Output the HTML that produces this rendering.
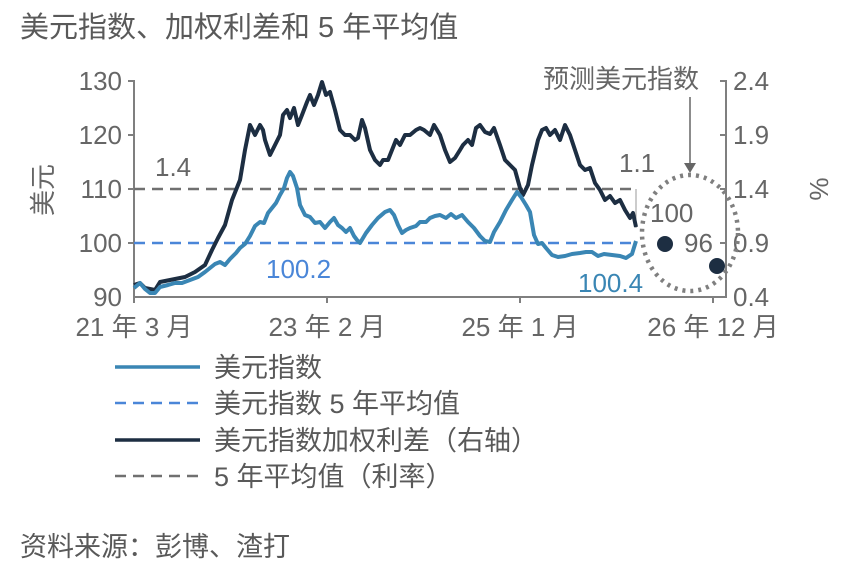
<!DOCTYPE html>
<html><head><meta charset="utf-8"><style>
body{margin:0;background:#fff;}
svg{display:block;font-family:"Liberation Sans","Noto Sans CJK SC",sans-serif;}
</style></head><body>
<svg width="856" height="586" viewBox="0 0 856 586" xmlns="http://www.w3.org/2000/svg">
<text x="20" y="37" font-size="29" fill="#595959">美元指数、加权利差和 5 年平均值</text>
<!-- axes -->
<g stroke="#7f7f7f" stroke-width="2" fill="none">
<path d="M128 81H134V297H726V81H720"/>
<path d="M128 135H134M128 189H134M128 243H134"/>
<path d="M720 135H726M720 189H726M720 243H726M720 297H726"/>
<path d="M134 297V303M327 297V303M520 297V303M713 297V303"/>
</g>
<g font-size="26" fill="#666">
<text x="122" y="90" text-anchor="end">130</text>
<text x="122" y="144" text-anchor="end">120</text>
<text x="122" y="198" text-anchor="end">110</text>
<text x="122" y="252" text-anchor="end">100</text>
<text x="122" y="306" text-anchor="end">90</text>
<text x="733" y="90">2.4</text>
<text x="733" y="144">1.9</text>
<text x="733" y="198">1.4</text>
<text x="733" y="252">0.9</text>
<text x="733" y="306">0.4</text>
<text x="134" y="336" text-anchor="middle">21 年 3 月</text>
<text x="327" y="336" text-anchor="middle">23 年 2 月</text>
<text x="520" y="336" text-anchor="middle">25 年 1 月</text>
<text x="713" y="336" text-anchor="middle">26 年 12 月</text>
<text transform="translate(52,190) rotate(-90)" text-anchor="middle">美元</text>
<text transform="translate(810,189) rotate(90)" text-anchor="middle">%</text>
<text x="155" y="176">1.4</text>
<text x="619" y="172">1.1</text>
<text x="543" y="88">预测美元指数</text>
<text x="650" y="222">100</text>
<text x="684" y="252">96</text>
</g>
<text x="266" y="278" font-size="26" fill="#4a86d8">100.2</text>
<text x="578" y="292" font-size="26" fill="#3a86b4">100.4</text>
<!-- reference lines -->
<path d="M134 189H636" stroke="#707070" stroke-width="2.5" stroke-dasharray="11 7"/>
<path d="M134 243H636" stroke="#4a86d8" stroke-width="2.5" stroke-dasharray="11 7"/>
<path d="M636 189V228" stroke="#999" stroke-width="1"/>
<!-- dark line -->
<polyline fill="none" stroke="#1d2e42" stroke-width="4" stroke-linejoin="round" points="134,285 140,283 145,288 155,290 160,282 170,280 185,277 195,272 205,265 212,250 218,238 225,225 232,200 240,180 245,150 250,125 255,135 260,125 263,130 265,140 270,155 275,145 280,135 283,115 287,110 290,118 294,108 298,125 302,115 307,102 310,95 314,105 318,95 322,82 326,95 330,92 335,110 340,130 345,135 350,135 355,140 358,138 362,120 365,128 370,150 375,160 380,165 383,160 388,160 392,150 396,140 400,145 405,135 410,135 416,130 420,128 424,130 430,135 434,125 440,135 445,150 450,162 455,158 460,150 463,145 468,140 472,145 476,128 480,125 485,132 490,134 494,128 500,145 505,160 510,165 515,170 520,188 523,195 528,185 532,165 538,140 542,130 546,128 550,135 555,130 560,140 565,125 570,135 575,150 580,165 585,170 590,168 595,183 600,190 605,200 610,196 615,203 620,200 625,210 630,218 633,213 636,227"/>
<!-- blue line -->
<polyline fill="none" stroke="#3a86b4" stroke-width="4" stroke-linejoin="round" points="134,288 140,283 145,289 150,293 155,293 160,287 168,285 175,283 182,283 190,280 198,277 205,272 210,268 215,264 220,262 225,265 230,259 236,253 240,248 245,244 250,236 255,226 260,222 264,223 268,213 272,208 276,203 280,195 284,188 287,178 290,172 293,176 297,188 300,205 305,215 310,217 315,223 320,222 325,228 330,222 334,218 338,225 342,228 346,232 350,228 354,236 357,240 360,243 366,233 372,225 378,218 385,212 390,210 394,215 398,225 402,233 406,230 410,228 416,226 420,222 426,222 430,218 435,216 440,215 446,218 451,214 456,218 462,215 468,222 474,228 480,236 485,241 490,242 494,232 500,222 506,210 512,200 517,192 521,197 526,205 530,212 534,235 538,244 542,243 546,248 552,255 558,257 565,256 572,254 580,253 586,252 592,252 598,256 604,254 612,255 620,256 626,258 632,254 636,241"/>
<!-- forecast -->
<ellipse cx="690" cy="233" rx="48" ry="58" fill="none" stroke="#7f7f7f" stroke-width="4.5" stroke-dasharray="3 5"/>
<path d="M690 97V165" stroke="#666" stroke-width="1.5"/>
<path d="M684 163L690 173L696 163Z" fill="#666"/>
<circle cx="665" cy="244" r="8" fill="#1d2e42"/>
<circle cx="717" cy="266" r="8" fill="#1d2e42"/>
<!-- legend -->
<g stroke-width="3.5">
<path d="M115 367H200" stroke="#3a86b4"/>
<path d="M115 403H200" stroke="#4a86d8" stroke-width="2.5" stroke-dasharray="11 7"/>
<path d="M115 440H200" stroke="#1d2e42"/>
<path d="M115 476H200" stroke="#707070" stroke-width="2.5" stroke-dasharray="11 7"/>
</g>
<g font-size="27" fill="#595959">
<text x="214" y="377">美元指数</text>
<text x="214" y="413">美元指数 5 年平均值</text>
<text x="214" y="450">美元指数加权利差（右轴）</text>
<text x="214" y="486">5 年平均值（利率）</text>
<text x="20" y="556">资料来源：彭博、渣打</text>
</g>
</svg>
</body></html>
